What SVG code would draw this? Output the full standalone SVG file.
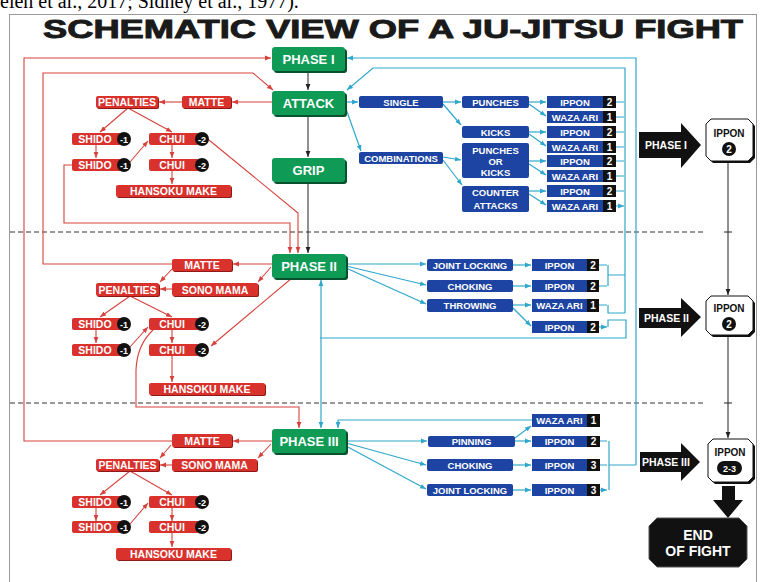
<svg xmlns="http://www.w3.org/2000/svg" width="763" height="582" viewBox="0 0 763 582">
<style>
text{font-family:"Liberation Sans",Arial,sans-serif;font-weight:bold;text-anchor:middle}
.gs{fill:#07512c}.g{fill:#0f9b56}
.gt{font-size:13px;fill:#fff}
.rs{fill:#8f1a15}.r{fill:#d9312b}
.rt{font-size:10.5px;fill:#fff}
.b{fill:#1d44a2}
.bt{font-size:9.5px;fill:#fff}
.k{fill:#111}
.kt{font-size:9px;fill:#fff}
.st{font-size:10px;fill:#fff}
.lr{stroke:#d5423b;stroke-width:1.1;fill:none}
.lc{stroke:#2fa7cc;stroke-width:1.2;fill:none}
.lk{stroke:#222;stroke-width:1;fill:none}
.mr{marker-end:url(#ar)}
.mc{marker-end:url(#ac)}
.mk{marker-end:url(#ak)}
.dash{stroke:#777;stroke-width:1.5;stroke-dasharray:5 3;fill:none}
</style>
<defs>
<marker id="ar" viewBox="0 0 10 10" refX="10" refY="5" markerWidth="6" markerHeight="6" markerUnits="userSpaceOnUse" orient="auto"><path d="M0,1L10,5L0,9z" fill="#d5423b"/></marker>
<marker id="ac" viewBox="0 0 10 10" refX="10" refY="5" markerWidth="6" markerHeight="6" markerUnits="userSpaceOnUse" orient="auto"><path d="M0,1L10,5L0,9z" fill="#2fa7cc"/></marker>
<marker id="ak" viewBox="0 0 10 10" refX="10" refY="5" markerWidth="6" markerHeight="6" markerUnits="userSpaceOnUse" orient="auto"><path d="M0,1L10,5L0,9z" fill="#222"/></marker>
</defs>
<rect width="763" height="582" fill="#fff"/>
<text x="0" y="8" style="font-family:'Liberation Serif',serif;font-weight:normal;font-size:20px;text-anchor:start;fill:#000">elen et al., 2017; Sidney et al., 1977).</text>
<rect x="9.5" y="14.5" width="747" height="580" fill="none" stroke="#999" stroke-width="1"/>
<text x="393" y="38" style="font-size:25px;fill:#1a1a1a;stroke:#1a1a1a;stroke-width:0.9" textLength="700" lengthAdjust="spacingAndGlyphs">SCHEMATIC VIEW OF A JU-JITSU FIGHT</text>
<path class="dash" d="M10,232H705M10,403H705"/>

<g id="connectors">
<path class="lk mk" d="M308,72V90"/>
<path class="lk mk" d="M308,115V157"/>
<path class="lk mk" d="M308,182V253"/>
<path class="lk mk" d="M728,161V295"/>
<path class="lk mk" d="M728,335V438"/>
<path class="lk" d="M724,232H732M724,403H732"/>
<path class="lr mr" d="M172,441H24V58H271"/>
<path class="lr mr" d="M172,264H43V73H253L273,90"/>
<path class="lr mr" d="M272,102H232"/>
<path class="lr mr" d="M182,102H159"/>
<path class="lr mr" d="M128,108L100,132"/>
<path class="lr mr" d="M128,108L172,132"/>
<path class="lr mr" d="M96,145V158"/>
<path class="lr mr" d="M130,162L148,141"/>
<path class="lr mr" d="M172,145V158"/>
<path class="lr mr" d="M172,171V184"/>
<path class="lr mr" d="M209,140L298,213V253"/>
<path class="lr mr" d="M72,165H64V223H290V253"/>
<path class="lr mr" d="M272,264H233"/>
<path class="lr mr" d="M271,267L258,282"/>
<path class="lr mr" d="M172,269L160,282"/>
<path class="lr mr" d="M172,289H160"/>
<path class="lr mr" d="M130,296L100,317"/>
<path class="lr mr" d="M130,296L172,317"/>
<path class="lr mr" d="M96,330V343"/>
<path class="lr mr" d="M130,347L148,327"/>
<path class="lr mr" d="M172,330V343"/>
<path class="lr mr" d="M172,356V382"/>
<path class="lr mr" d="M292,278L211,346"/>
<path class="lr mr" d="M153,330Q137,345 136,370V407H299V428"/>
<path class="lr mr" d="M272,441H233"/>
<path class="lr mr" d="M271,444L258,458"/>
<path class="lr mr" d="M171,445L160,458"/>
<path class="lr mr" d="M172,465H160"/>
<path class="lr mr" d="M130,471L100,495"/>
<path class="lr mr" d="M130,471L172,495"/>
<path class="lr mr" d="M96,508V521"/>
<path class="lr mr" d="M130,524L148,503"/>
<path class="lr mr" d="M172,508V521"/>
<path class="lr mr" d="M172,533V547"/>
<path class="lc mc" d="M345,102H358"/>
<path class="lc mc" d="M345,106L361,151"/>
<path class="lc mc" d="M443,102H461"/>
<path class="lc mc" d="M443,104L461,125"/>
<path class="lc mc" d="M443,157L461,160"/>
<path class="lc mc" d="M443,160L462,185"/>
<path class="lc mc" d="M529,102H546"/>
<path class="lc mc" d="M529,104L546,116"/>
<path class="lc mc" d="M529,132H546"/>
<path class="lc mc" d="M529,134L546,146"/>
<path class="lc mc" d="M529,161H546"/>
<path class="lc mc" d="M529,164L546,175"/>
<path class="lc mc" d="M529,191H546"/>
<path class="lc mc" d="M529,194L546,205"/>
<path class="lc mc" d="M616,102H624M616,117H624M616,132H624M616,147H624M616,161H624M616,176H624M616,191H624M616,206H624"/>
<path class="lc mc" d="M625,313V68H373L347,90"/>
<path class="lc mc" d="M636,465V58H347"/>
<path class="lc mc" d="M346,264H426"/>
<path class="lc mc" d="M346,266L426,285"/>
<path class="lc mc" d="M346,268L426,304"/>
<path class="lc mc" d="M513,265H531"/>
<path class="lc mc" d="M513,286H531"/>
<path class="lc mc" d="M513,305H531"/>
<path class="lc mc" d="M513,308L531,326"/>
<path class="lc mc" d="M599,265H607M599,286H607M599,305H607M599,327H607"/>
<path class="lc" d="M608,265V286M608,275H625M608,305V313H625M608,327V320H626V338H320"/>
<path class="lc mc" d="M321,338V280"/>
<path class="lc mc" d="M321,338V428"/>
<path class="lc mc" d="M346,441H427"/>
<path class="lc mc" d="M346,443L426,465"/>
<path class="lc mc" d="M346,446L426,489"/>
<path class="lc mc" d="M515,441H531"/>
<path class="lc mc" d="M515,438L531,426"/>
<path class="lc mc" d="M532,420H338V428"/>
<path class="lc mc" d="M513,465H531"/>
<path class="lc mc" d="M513,490H531"/>
<path class="lc mc" d="M600,441H607M600,465H607M600,490H607"/>
<path class="lc" d="M609,441V490M609,465H636"/>
</g>

<g id="phase1"><rect x="274" y="49" width="73" height="24" rx="3" class="gs"/><rect x="272" y="47" width="73" height="24" rx="3" class="g"/><text x="308.5" y="63.5" class="gt">PHASE I</text></g>
<g id="attack"><rect x="274" y="93" width="73" height="24" rx="3" class="gs"/><rect x="272" y="91" width="73" height="24" rx="3" class="g"/><text x="308.5" y="107.5" class="gt">ATTACK</text></g>
<g id="grip"><rect x="274" y="160" width="73" height="24" rx="3" class="gs"/><rect x="272" y="158" width="73" height="24" rx="3" class="g"/><text x="308.5" y="174.5" class="gt">GRIP</text></g>
<g id="phase2"><rect x="274" y="256" width="74" height="24" rx="3" class="gs"/><rect x="272" y="254" width="74" height="24" rx="3" class="g"/><text x="309" y="270.5" class="gt">PHASE II</text></g>
<g id="phase3"><rect x="274" y="431" width="74" height="24" rx="3" class="gs"/><rect x="272" y="429" width="74" height="24" rx="3" class="g"/><text x="309" y="445.5" class="gt">PHASE III</text></g>

<g id="p1-penalties"><rect x="97" y="97" width="62" height="12" rx="2" class="rs"/><rect x="96" y="96" width="62" height="12" rx="2" class="r"/><text x="127" y="106" class="rt">PENALTIES</text></g>
<g id="p1-matte"><rect x="183" y="97" width="49" height="12" rx="2" class="rs"/><rect x="182" y="96" width="49" height="12" rx="2" class="r"/><text x="206.5" y="106" class="rt">MATTE</text></g>
<g id="p1-shido1"><rect x="72" y="133" width="50" height="12" rx="2" class="r"/><text x="95" y="143" class="rt">SHIDO</text><circle cx="124" cy="139" r="7" class="k"/><text x="124" y="142.5" class="kt">-1</text></g>
<g id="p1-shido2"><rect x="72" y="159" width="50" height="12" rx="2" class="r"/><text x="95" y="169" class="rt">SHIDO</text><circle cx="124" cy="165" r="7" class="k"/><text x="124" y="168.5" class="kt">-1</text></g>
<g id="p1-chui1"><rect x="149" y="133" width="50" height="12" rx="2" class="r"/><text x="172" y="143" class="rt">CHUI</text><circle cx="202" cy="139" r="7" class="k"/><text x="202" y="142.5" class="kt">-2</text></g>
<g id="p1-chui2"><rect x="149" y="159" width="50" height="12" rx="2" class="r"/><text x="172" y="169" class="rt">CHUI</text><circle cx="202" cy="165" r="7" class="k"/><text x="202" y="168.5" class="kt">-2</text></g>
<g id="p1-hansoku"><rect x="117" y="186" width="115" height="12" rx="2" class="rs"/><rect x="116" y="185" width="115" height="12" rx="2" class="r"/><text x="173.5" y="195" class="rt">HANSOKU MAKE</text></g>

<g id="p2-matte"><rect x="173" y="260" width="60" height="12" rx="2" class="rs"/><rect x="172" y="259" width="60" height="12" rx="2" class="r"/><text x="202" y="269" class="rt">MATTE</text></g>
<g id="p2-penalties"><rect x="97" y="284" width="63" height="13" rx="2" class="rs"/><rect x="96" y="283" width="63" height="13" rx="2" class="r"/><text x="127.5" y="293.5" class="rt">PENALTIES</text></g>
<g id="p2-sonomama"><rect x="173" y="284" width="86" height="13" rx="2" class="rs"/><rect x="172" y="283" width="86" height="13" rx="2" class="r"/><text x="215" y="293.5" class="rt">SONO MAMA</text></g>
<g id="p2-shido1"><rect x="72" y="318" width="50" height="12" rx="2" class="r"/><text x="95" y="328" class="rt">SHIDO</text><circle cx="124" cy="324" r="7" class="k"/><text x="124" y="327.5" class="kt">-1</text></g>
<g id="p2-shido2"><rect x="72" y="344" width="50" height="12" rx="2" class="r"/><text x="95" y="354" class="rt">SHIDO</text><circle cx="124" cy="350" r="7" class="k"/><text x="124" y="353.5" class="kt">-1</text></g>
<g id="p2-chui1"><rect x="149" y="318" width="50" height="12" rx="2" class="r"/><text x="172" y="328" class="rt">CHUI</text><circle cx="202" cy="324" r="7" class="k"/><text x="202" y="327.5" class="kt">-2</text></g>
<g id="p2-chui2"><rect x="149" y="344" width="50" height="12" rx="2" class="r"/><text x="172" y="354" class="rt">CHUI</text><circle cx="202" cy="350" r="7" class="k"/><text x="202" y="353.5" class="kt">-2</text></g>
<g id="p2-hansoku"><rect x="150" y="384" width="116" height="12" rx="2" class="rs"/><rect x="149" y="383" width="116" height="12" rx="2" class="r"/><text x="207" y="393" class="rt">HANSOKU MAKE</text></g>

<g id="p3-matte"><rect x="173" y="435" width="60" height="13" rx="2" class="rs"/><rect x="172" y="434" width="60" height="13" rx="2" class="r"/><text x="202" y="444.5" class="rt">MATTE</text></g>
<g id="p3-penalties"><rect x="97" y="460" width="63" height="12" rx="2" class="rs"/><rect x="96" y="459" width="63" height="12" rx="2" class="r"/><text x="127.5" y="469" class="rt">PENALTIES</text></g>
<g id="p3-sonomama"><rect x="173" y="460" width="85" height="12" rx="2" class="rs"/><rect x="172" y="459" width="85" height="12" rx="2" class="r"/><text x="214.5" y="469" class="rt">SONO MAMA</text></g>
<g id="p3-shido1"><rect x="72" y="496" width="50" height="12" rx="2" class="r"/><text x="95" y="506" class="rt">SHIDO</text><circle cx="124" cy="502" r="7" class="k"/><text x="124" y="505.5" class="kt">-1</text></g>
<g id="p3-shido2"><rect x="72" y="521" width="50" height="12" rx="2" class="r"/><text x="95" y="531" class="rt">SHIDO</text><circle cx="124" cy="527" r="7" class="k"/><text x="124" y="530.5" class="kt">-1</text></g>
<g id="p3-chui1"><rect x="149" y="496" width="50" height="12" rx="2" class="r"/><text x="172" y="506" class="rt">CHUI</text><circle cx="202" cy="502" r="7" class="k"/><text x="202" y="505.5" class="kt">-2</text></g>
<g id="p3-chui2"><rect x="149" y="521" width="50" height="12" rx="2" class="r"/><text x="172" y="531" class="rt">CHUI</text><circle cx="202" cy="527" r="7" class="k"/><text x="202" y="530.5" class="kt">-2</text></g>
<g id="p3-hansoku"><rect x="117" y="549" width="115" height="12" rx="2" class="rs"/><rect x="116" y="548" width="115" height="12" rx="2" class="r"/><text x="173.5" y="558" class="rt">HANSOKU MAKE</text></g>

<g id="single"><rect x="359" y="96" width="84" height="12" rx="2" class="b"/><text x="401" y="105.5" class="bt">SINGLE</text></g>
<g id="combinations"><rect x="359" y="152" width="84" height="12" rx="2" class="b"/><text x="401" y="161.5" class="bt">COMBINATIONS</text></g>
<g id="punches"><rect x="462" y="96" width="67" height="12" rx="2" class="b"/><text x="495.5" y="105.5" class="bt">PUNCHES</text></g>
<g id="kicks"><rect x="462" y="126" width="67" height="12" rx="2" class="b"/><text x="495.5" y="135.5" class="bt">KICKS</text></g>
<g id="punchesorkicks"><rect x="462" y="143" width="67" height="35" rx="2" class="b"/><text x="495.5" y="153.5" class="bt">PUNCHES</text><text x="495.5" y="164.5" class="bt">OR</text><text x="495.5" y="175.5" class="bt">KICKS</text></g>
<g id="counter"><rect x="462" y="186" width="67" height="26" rx="2" class="b"/><text x="495.5" y="195.7" class="bt">COUNTER</text><text x="495.5" y="208.7" class="bt">ATTACKS</text></g>
<g id="s1"><rect x="547" y="96" width="69" height="12" class="b"/><rect x="603" y="96" width="13" height="12" class="k"/><text x="575" y="105.5" class="bt">IPPON</text><text x="609.5" y="105.8" class="st">2</text></g>
<g id="s2"><rect x="547" y="111" width="69" height="12" class="b"/><rect x="603" y="111" width="13" height="12" class="k"/><text x="575" y="120.5" class="bt">WAZA ARI</text><text x="609.5" y="120.8" class="st">1</text></g>
<g id="s3"><rect x="547" y="126" width="69" height="12" class="b"/><rect x="603" y="126" width="13" height="12" class="k"/><text x="575" y="135.5" class="bt">IPPON</text><text x="609.5" y="135.8" class="st">2</text></g>
<g id="s4"><rect x="547" y="141" width="69" height="12" class="b"/><rect x="603" y="141" width="13" height="12" class="k"/><text x="575" y="150.5" class="bt">WAZA ARI</text><text x="609.5" y="150.8" class="st">1</text></g>
<g id="s5"><rect x="547" y="155" width="69" height="12" class="b"/><rect x="603" y="155" width="13" height="12" class="k"/><text x="575" y="164.5" class="bt">IPPON</text><text x="609.5" y="164.8" class="st">2</text></g>
<g id="s6"><rect x="547" y="170" width="69" height="12" class="b"/><rect x="603" y="170" width="13" height="12" class="k"/><text x="575" y="179.5" class="bt">WAZA ARI</text><text x="609.5" y="179.8" class="st">1</text></g>
<g id="s7"><rect x="547" y="185" width="69" height="12" class="b"/><rect x="603" y="185" width="13" height="12" class="k"/><text x="575" y="194.5" class="bt">IPPON</text><text x="609.5" y="194.8" class="st">2</text></g>
<g id="s8"><rect x="547" y="200" width="69" height="12" class="b"/><rect x="603" y="200" width="13" height="12" class="k"/><text x="575" y="209.5" class="bt">WAZA ARI</text><text x="609.5" y="209.8" class="st">1</text></g>

<g id="p2-joint"><rect x="427" y="259" width="86" height="12" rx="2" class="b"/><text x="470" y="268.5" class="bt">JOINT LOCKING</text></g>
<g id="p2-choking"><rect x="427" y="280" width="86" height="12" rx="2" class="b"/><text x="470" y="289.5" class="bt">CHOKING</text></g>
<g id="p2-throwing"><rect x="427" y="299" width="86" height="13" rx="2" class="b"/><text x="470" y="309" class="bt">THROWING</text></g>
<g id="t1"><rect x="532" y="259" width="67" height="12" class="b"/><rect x="587" y="259" width="12" height="12" class="k"/><text x="559.5" y="268.5" class="bt">IPPON</text><text x="593" y="268.8" class="st">2</text></g>
<g id="t2"><rect x="532" y="280" width="67" height="12" class="b"/><rect x="587" y="280" width="12" height="12" class="k"/><text x="559.5" y="289.5" class="bt">IPPON</text><text x="593" y="289.8" class="st">2</text></g>
<g id="t3"><rect x="532" y="299" width="67" height="13" class="b"/><rect x="587" y="299" width="12" height="13" class="k"/><text x="559.5" y="309" class="bt">WAZA ARI</text><text x="593" y="309.3" class="st">1</text></g>
<g id="t4"><rect x="532" y="321" width="67" height="12" class="b"/><rect x="587" y="321" width="12" height="12" class="k"/><text x="559.5" y="330.5" class="bt">IPPON</text><text x="593" y="330.8" class="st">2</text></g>

<g id="p3-pinning"><rect x="428" y="436" width="87" height="11" rx="2" class="b"/><text x="471.5" y="445" class="bt">PINNING</text></g>
<g id="p3-choking"><rect x="427" y="459" width="86" height="12" rx="2" class="b"/><text x="470" y="468.5" class="bt">CHOKING</text></g>
<g id="p3-joint"><rect x="427" y="484" width="86" height="12" rx="2" class="b"/><text x="470" y="493.5" class="bt">JOINT LOCKING</text></g>
<g id="u1"><rect x="532" y="414" width="68" height="13" class="b"/><rect x="587" y="414" width="13" height="13" class="k"/><text x="559.5" y="424" class="bt">WAZA ARI</text><text x="593.5" y="424.3" class="st">1</text></g>
<g id="u2"><rect x="532" y="436" width="68" height="11" class="b"/><rect x="587" y="436" width="13" height="11" class="k"/><text x="559.5" y="445" class="bt">IPPON</text><text x="593.5" y="445.3" class="st">2</text></g>
<g id="u3"><rect x="532" y="459" width="68" height="12" class="b"/><rect x="587" y="459" width="13" height="12" class="k"/><text x="559.5" y="468.5" class="bt">IPPON</text><text x="593.5" y="468.8" class="st">3</text></g>
<g id="u4"><rect x="532" y="484" width="68" height="12" class="b"/><rect x="587" y="484" width="13" height="12" class="k"/><text x="559.5" y="493.5" class="bt">IPPON</text><text x="593.5" y="493.8" class="st">3</text></g>

<g id="arrow-phase1"><polygon points="639,132 681,132 681,123 701,145 681,168 681,158 639,158" class="k"/><text x="645" y="149" style="font-size:10.5px;fill:#fff;text-anchor:start">PHASE I</text></g>
<g id="arrow-phase2"><polygon points="639,308 681,308 681,298 701,317 681,337 681,328 639,328" class="k"/><text x="644" y="321.5" style="font-size:10.5px;fill:#fff;text-anchor:start">PHASE II</text></g>
<g id="arrow-phase3"><polygon points="640,452 681,452 681,443 700,462 681,481 681,472 640,472" class="k"/><text x="642" y="466" style="font-size:10.5px;fill:#fff;text-anchor:start">PHASE III</text></g>
<g id="ippon1"><polygon points="713,121 750,121 755,126 755,158 750,163 713,163 708,158 708,126" class="k"/><polygon points="711,119 748,119 753,124 753,156 748,161 711,161 706,156 706,124" fill="#fff" stroke="#111" stroke-width="1"/><text x="729" y="137" style="font-size:10px;fill:#111">IPPON</text><circle cx="729" cy="149" r="7" class="k"/><text x="729" y="152.5" class="st">2</text></g>
<g id="ippon2"><polygon points="713,298 750,298 755,303 755,332 750,337 713,337 708,332 708,303" class="k"/><polygon points="711,296 748,296 753,301 753,330 748,335 711,335 706,330 706,301" fill="#fff" stroke="#111" stroke-width="1"/><text x="729" y="312" style="font-size:10px;fill:#111">IPPON</text><circle cx="729" cy="324" r="7" class="k"/><text x="729" y="327.5" class="st">2</text></g>
<g id="ippon3"><polygon points="715,441 750,441 755,446 755,479 750,484 715,484 710,479 710,446" class="k"/><polygon points="713,439 748,439 753,444 753,477 748,482 713,482 708,477 708,444" fill="#fff" stroke="#111" stroke-width="1"/><text x="730" y="456" style="font-size:10px;fill:#111">IPPON</text><rect x="717" y="461" width="25" height="14" rx="7" class="k"/><text x="729.5" y="471.5" class="kt">2-3</text></g>
<g id="down-arrow"><polygon points="722,486 735,486 735,500 743,500 728,518 713,500 722,500" class="k"/></g>
<g id="end"><polygon points="657,518 739,518 747,526 747,559 739,567 657,567 649,559 649,526" class="k" stroke="#555" stroke-width="1"/><text x="698" y="540" style="font-size:14px;fill:#fff">END</text><text x="698" y="556" style="font-size:14px;fill:#fff">OF FIGHT</text></g>
</svg>
